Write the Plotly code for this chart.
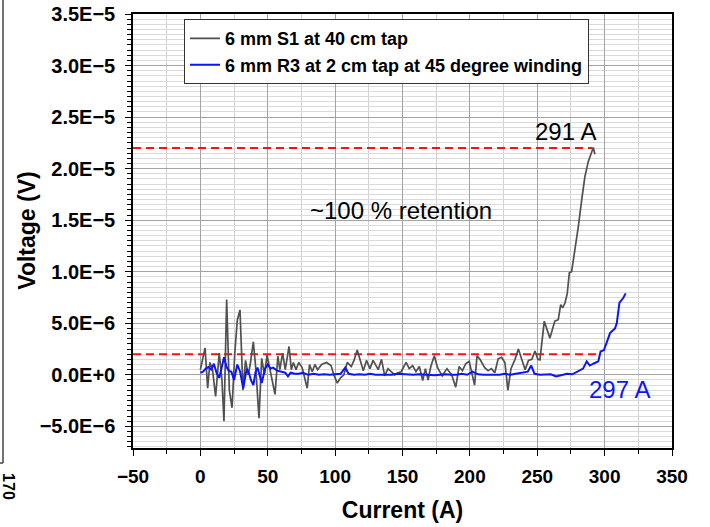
import plotly.graph_objects as go

# Sample S1 (40 cm tap): current in A, voltage in microvolts
s1_current = [
    0, 2, 3.5, 5.4, 7.1, 9, 11.3, 14, 16, 17.5,
    19.5, 21.5, 23.5, 25.5, 27.4, 29.4, 31.6, 33.5, 35.5, 37,
    39.3, 41.2, 43.5, 45.5, 47.5, 49.5, 52, 55.4, 57.5, 59,
    61, 63, 65.8, 67.5, 69, 71, 73, 75.5, 79.3, 81,
    83, 85, 87, 90, 93.5, 97, 99, 101.6, 104, 106.5,
    109, 112, 114, 116.4, 118.4, 120.9, 123.3, 125.8, 128.2, 132,
    134.4, 136.8, 139.2, 141.6, 144.2, 146.6, 149, 152.7, 155, 157.5,
    160, 162.5, 165, 167, 169, 171, 173.6, 176, 179.5, 183,
    186.5, 189.5, 192, 194.5, 197, 199.5, 202, 203.5, 205.3, 207.5,
    211, 213.5, 216, 218.5, 221, 223.5, 226, 228.2, 230.5, 233.5,
    236, 238.5, 241, 243.5, 246, 248.3, 250.5, 252, 255.2, 259.4,
    263, 265.6, 267.4, 268.8, 270.6, 272.3, 273.8, 275.5, 278, 280.5,
    283, 285.4, 287.9, 291.6, 292.8,
]
s1_voltage_uv = [
    0.5, 1.6, 2.6, -1.3, 1.2, 0.5, -2.1, 2.1, -0.5, -4.5,
    7.3, -1.5, -3.2, 2.0, 5.3, 6.3, -1.5, 1.4, 0.0, 1.0,
    3.2, 0.5, -4.2, 1.6, 0.0, 1.9, 0.3, -1.9, 1.8, 0.5,
    2.1, 0.5, 2.75, 0.5, 1.2, 0.5, 1.2, 0.7, -1.3, 1.0,
    0.3, 1.0, 0.5, 1.0, 1.2, 0.9, 0.0, -0.8, -0.3, 0.0,
    1.2, 0.8, 1.4, 2.4, 1.5, 0.4, 1.4, 0.6, 1.4, 0.5,
    1.5, -0.1, 0.6, 0.3, 0.0, 0.2, 0.3, 1.2, 0.6, 0.9,
    0.3, 0.8, -0.55, 0.6, -0.5, 0.8, 1.85, 0.7, -0.1, 0.6,
    0.0, -1.2, 0.8, 0.4, 1.1, 1.3, -0.3, -1.0, 1.85, 1.5,
    0.7, 0.4, 0.6, 0.2, 1.55, 1.7, 1.2, -1.5, 0.6, 1.5,
    2.5, 1.5, 0.5, 1.4, 1.5, 2.3, 1.5, 1.45, 5.2, 3.56,
    5.2, 5.34, 6.8, 6.5, 6.96, 7.9, 9.9, 10.0, 12.1, 14.4,
    17.0, 19.25, 20.7, 22.05, 21.4,
]

# Sample R3 (2 cm tap, 45 degree winding)
r3_current = [
    0, 2, 4, 6, 8, 10, 12, 14, 16, 17.5,
    19.5, 21, 23, 25, 27.4, 29.5, 31.8, 34.4, 36, 37.5,
    39.3, 41, 42.4, 44, 45.5, 48, 50, 52, 54, 57,
    60, 63, 65, 67, 70, 73, 76, 80, 84, 88,
    92, 96, 100, 104, 107.5, 110, 114, 118, 122, 126,
    130, 134, 138, 142, 146, 150, 154, 158, 162, 166,
    170, 174, 178, 182, 186, 190, 194, 198, 202, 206,
    210, 214, 218, 222, 226, 230, 234, 238, 241, 243,
    245.5, 248, 252, 256, 260, 264, 268, 272, 276, 280,
    282.5, 284, 286.7, 289, 292, 295.3, 297, 299.5, 302.7, 304,
    306, 307.7, 309, 310.1, 311, 313.8, 315.6,
]
r3_voltage_uv = [
    0.2, 0.3, 0.6, 0.75, 0.5, 1.07, 0.2, -0.3, 0.8, 1.7,
    0.75, 0.4, 0.3, -0.5, 1.0, 0.3, -1.3, 0.6, 0.2, -0.5,
    -1.0, 0.3, 0.7, 0.0, -0.8, 0.6, 1.0, 0.6, 0.7, 0.4,
    0.3, 0.2, -0.15, 0.2, 0.1, 0.1, 0.2, 0.0, 0.1, 0.0,
    0.05, 0.0, 0.05, 0.1, 0.7, 0.1, 0.0, 0.05, 0.0, 0.1,
    0.0, 0.0, 0.05, 0.0, 0.1, 0.05, 0.0, 0.0, 0.05, 0.0,
    0.0, -0.05, 0.0, 0.05, 0.0, 0.0, 0.1, 0.0, 0.3, 0.05,
    0.0, 0.0, 0.05, 0.0, 0.1, 0.0, 0.1, 0.2, 0.3, 0.3,
    0.9, 0.1, 0.0, 0.0, 0.05, -0.15, 0.0, 0.1, 0.05, 0.3,
    0.5, 0.6, 1.3, 0.9, 1.1, 1.3, 2.26, 2.4, 3.56, 4.05,
    4.3, 4.5, 5.0, 6.0, 7.0, 7.45, 7.9,
]

# Critical-current criteria (dashed lines): level in V, end current in A
criteria_levels = [2.2e-5, 2.0e-6]
criteria_end_current = [291, 297]

y_tick_values = [-5e-6, 0, 5e-6, 1e-5, 1.5e-5, 2e-5, 2.5e-5, 3e-5, 3.5e-5]
y_tick_labels = ["−5.0E−6", "0.0E+0", "5.0E−6", "1.0E−5", "1.5E−5",
                 "2.0E−5", "2.5E−5", "3.0E−5", "3.5E−5"]
x_tick_values = [-50, 0, 50, 100, 150, 200, 250, 300, 350]

UV = 1e-6
FONT = "Liberation Sans, Arial, sans-serif"
BLUE = "#0a14ff"

fig = go.Figure()

for level, end in zip(criteria_levels, criteria_end_current):
    fig.add_trace(go.Scatter(
        x=[-50, end], y=[level, level], mode="lines",
        line=dict(color="#ff1010", width=2, dash="8px,5px"),
        showlegend=False, hoverinfo="skip",
    ))

fig.add_trace(go.Scatter(
    x=s1_current, y=[v * UV for v in s1_voltage_uv], mode="lines",
    name="6 mm S1 at 40 cm tap",
    line=dict(color="#505050", width=1.7),
))
fig.add_trace(go.Scatter(
    x=r3_current, y=[v * UV for v in r3_voltage_uv], mode="lines",
    name="6 mm R3 at 2 cm tap at 45 degree winding",
    line=dict(color=BLUE, width=2),
))

axis_common = dict(
    showline=True, linecolor="black", linewidth=1.5, mirror=True,
    ticks="outside", ticklen=6, tickwidth=1.3, tickcolor="black",
    zeroline=False, showgrid=True, automargin=False,
)

fig.update_xaxes(
    range=[-50, 350], tickmode="array", tickvals=x_tick_values,
    gridcolor="#a3a3a3", gridwidth=1.2, ticklabelstandoff=4,
    tickfont=dict(family=FONT, size=19, color="black", weight="bold"),
    minor=dict(tickmode="linear", tick0=-50, dtick=25, ticks="outside",
               ticklen=4, tickcolor="black", showgrid=True,
               gridcolor="#d2d2d2", gridwidth=1.2),
    title=dict(text="Current (A)", standoff=16,
               font=dict(family=FONT, size=23, color="black", weight="bold")),
    **axis_common,
)
fig.update_yaxes(
    range=[-7.1e-6, 3.5e-5], tickmode="array", tickvals=y_tick_values,
    ticktext=y_tick_labels, gridcolor="#a3a3a3", gridwidth=1.2,
    ticklabelstandoff=6,
    tickfont=dict(family=FONT, size=20, color="black", weight="bold"),
    minor=dict(tickmode="linear", tick0=0, dtick=5e-7, ticks="outside",
               ticklen=4, tickcolor="black", showgrid=True,
               gridcolor="#dadada", gridwidth=1),
    **axis_common,
)

annotations = [
    dict(x=270.6, y=2.36e-5, xref="x", yref="y", text="291 A", showarrow=False,
         font=dict(family=FONT, size=24, color="black")),
    dict(x=310.7, y=-1.43e-6, xref="x", yref="y", text="297 A", showarrow=False,
         font=dict(family=FONT, size=24, color=BLUE)),
    dict(x=148.8, y=1.59e-5, xref="x", yref="y", text="~100 % retention",
         showarrow=False, font=dict(family=FONT, size=24, color="black")),
    dict(x=-0.225, y=0.5, xref="paper", yref="paper", text="Voltage (V)",
         textangle=-90, showarrow=False,
         font=dict(family=FONT, size=23, color="black", weight="bold")),
    dict(x=-0.251, y=-0.124, xref="paper", yref="paper", text="170",
         textangle=90, showarrow=False,
         font=dict(family=FONT, size=16, color="black", weight="bold")),
]

# Edge of the neighbouring panel on the left
shapes = [
    dict(type="line", xref="paper", yref="paper", x0=-0.2412, x1=-0.2412,
         y0=-0.0346, y1=1.04, line=dict(color="#444444", width=1.5)),
    dict(type="line", xref="paper", yref="paper", x0=-0.2412, x1=-0.25,
         y0=-0.0346, y1=-0.0346, line=dict(color="#444444", width=1.5)),
]

fig.update_layout(
    width=710, height=527,
    margin=dict(l=133, r=38, t=14, b=79),
    paper_bgcolor="white", plot_bgcolor="white",
    font=dict(family=FONT, color="black"),
    legend=dict(
        x=0.0946, y=0.988, xanchor="left", yanchor="top",
        bgcolor="white", bordercolor="#333333", borderwidth=1,
        font=dict(family=FONT, size=18, color="black", weight="bold"),
        tracegroupgap=0, itemwidth=30,
    ),
    annotations=annotations,
    shapes=shapes,
)

fig.write_html("out.html")
